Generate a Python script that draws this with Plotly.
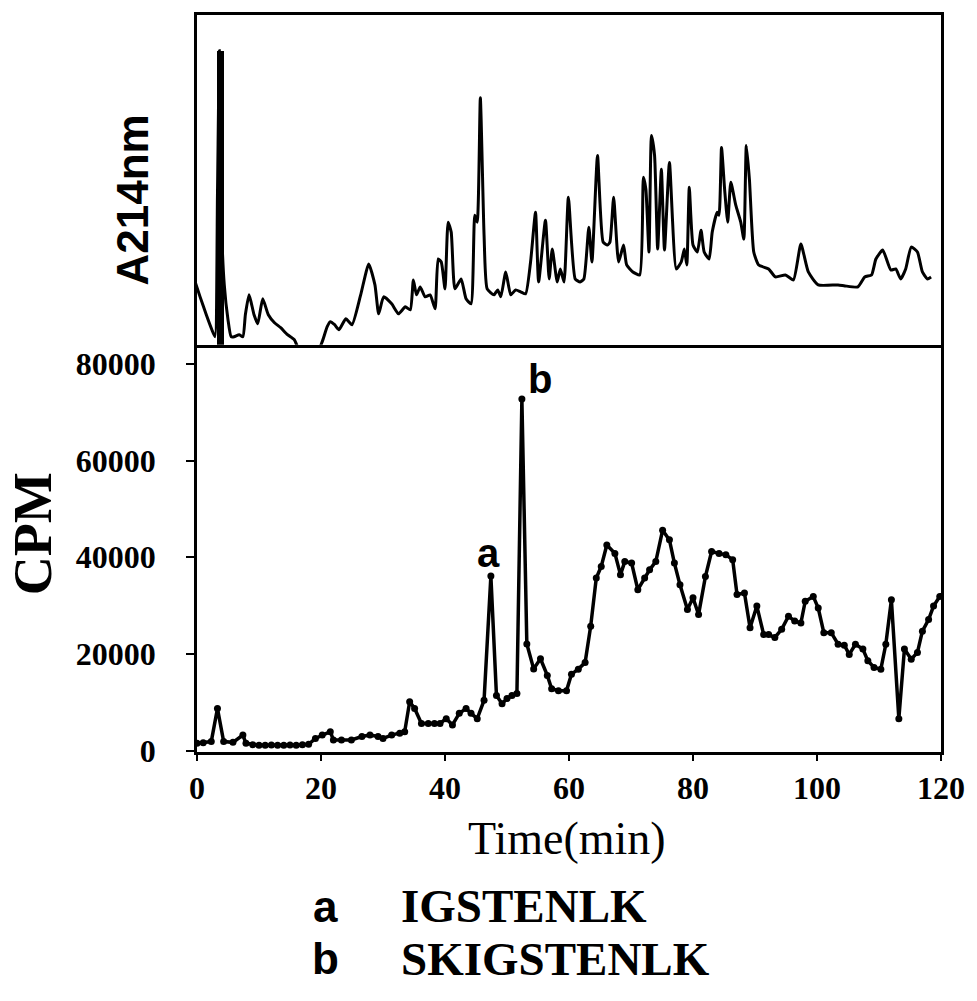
import plotly.graph_objects as go

# ---------------- data ----------------
# Upper panel: UV absorbance trace (A214nm, arbitrary units)
t_uv = [-0.3, 0.5, 1.5, 2.4, 2.9, 3.3, 3.6, 3.9, 4.4, 5.0, 5.5, 6.0, 6.8, 7.4, 7.8, 8.4, 9.2, 9.8,
        10.6, 11.5, 12.5, 13.5, 14.6, 15.7, 16.5, 19.6, 20.2, 21.0, 21.5, 22.2, 22.9, 24.0, 25.0,
        26.4, 27.7, 28.7, 29.3, 30.1, 31.4, 32.5, 33.6, 34.4, 34.9, 35.4, 36.0, 36.8, 37.6, 38.4,
        38.9, 39.4, 40.0, 40.5, 41.0, 41.6, 42.6, 43.4, 44.2, 44.8, 45.2, 45.7, 46.3, 46.8, 47.9,
        48.5, 49.0, 49.8, 50.6, 51.4, 52.2, 53.0, 53.8, 54.6, 55.1, 56.2, 56.8, 57.3, 58.1, 58.6,
        59.2, 59.9, 61.0, 61.8, 62.4, 63.2, 63.7, 64.6, 65.5, 66.2, 66.6, 67.2, 68.0, 68.8, 69.3,
        70.3, 71.4, 72.0, 72.4, 72.9, 73.3, 73.8, 74.3, 74.9, 75.4, 76.2, 77.3, 78.1, 78.6, 79.0,
        79.4, 80.0, 80.7, 81.3, 81.8, 82.6, 83.1, 83.9, 84.2, 84.6, 85.1, 85.6, 86.1, 86.9, 87.7,
        88.2, 88.6, 89.1, 89.8, 90.6, 92.2, 93.3, 94.9, 96.2, 97.4, 98.6, 100.2, 103.4, 104.5,
        106.6, 107.7, 108.8, 109.5, 110.6, 111.9, 112.7, 113.5, 114.3, 115.2, 116.2, 117.0, 117.8,
        118.4]
a214 = [63, 48, 30, 15, 8, 150, 295, 130, 60, 25, 8, 8, 10, 8, 30, 50, 30, 21,
        46, 30, 22, 17, 10, 5, -5, -5, 3, 18, 23, 20, 15, 26, 20,
        50, 81, 60, 31, 48, 41, 31, 38, 35, 65, 50, 58, 48, 50, 36,
        86, 83, 56, 123, 113, 56, 66, 46, 41, 130, 123, 248, 110, 56, 50,
        55, 48, 73, 50, 55, 53, 51, 83, 133, 63, 125, 66, 96, 63, 76,
        63, 148, 66, 63, 66, 118, 83, 190, 103, 100, 103, 148, 83, 100, 80,
        73, 70, 168, 156, 93, 210, 190, 96, 176, 95, 183, 76, 83, 96, 80,
        158, 100, 93, 115, 93, 86, 113, 133, 130, 198, 156, 123, 163, 140, 123,
        106, 200, 166, 93, 80, 76, 68, 70, 65, 101, 73, 60, 60, 59,
        58, 68, 70, 86, 95, 75, 76, 66, 76, 98, 93, 73, 66,
        68]
# solvent front (off-scale, saturated peak)
t_front = [3.8]
a214_front = [295]

# Lower panel: radioactivity of collected fractions
t_cpm = [0.0, 1.0, 2.3, 3.3, 4.3, 5.8, 7.4, 7.9, 9.0, 10.0, 11.0, 12.0, 13.0, 14.0, 15.0, 16.0,
         17.0, 18.0, 19.1, 20.2, 21.5, 22.0, 23.3, 24.9, 26.6, 27.9, 29.2, 30.0, 31.4, 32.7, 33.5,
         34.3, 35.1, 36.2, 37.3, 38.3, 39.2, 40.2, 41.2, 42.3, 43.4, 44.2, 45.2, 46.3, 47.4, 48.3,
         49.2, 50.0, 50.8, 51.6, 52.4, 53.2, 54.3, 55.4, 56.5, 57.2, 58.3, 59.6, 60.4, 61.5, 62.6,
         63.5, 64.4, 65.2, 66.1, 67.4, 68.3, 69.0, 70.1, 71.1, 72.2, 73.0, 74.0, 75.1, 76.2, 77.0,
         77.9, 79.1, 80.0, 80.9, 82.0, 83.0, 84.2, 85.3, 86.4, 87.1, 88.3, 89.2, 90.3, 91.4, 92.2,
         93.2, 94.3, 95.4, 96.4, 97.4, 98.1, 99.4, 100.2, 101.1, 102.3, 103.4, 104.4, 105.2, 106.2,
         107.4, 108.2, 109.2, 110.3, 111.1, 112.0, 113.2, 114.1, 115.2, 116.2, 117.0, 118.0, 118.8,
         119.8]
cpm = [1500, 1600, 1850, 8700, 1850, 1700, 3200, 1500, 1200, 1100, 1100, 1150, 1100, 1100, 1150, 1100,
       1200, 1300, 2500, 3200, 3900, 2200, 2200, 2200, 2900, 3200, 2900, 2500, 3200, 3600, 3900,
       10100, 8700, 5600, 5600, 5600, 5600, 6600, 5300, 7700, 8700, 7700, 6600, 10400, 36100, 11400,
       9700, 10750, 11400, 11800, 72750, 22050, 16900, 19000, 15550, 12800, 12400, 12400, 15800, 16850, 18200,
       25750, 35700, 38100, 42540, 40800, 36400, 39100, 38800, 33300, 35700, 37400, 39100, 45600, 43600, 38800,
       34300, 29200, 31600, 28150, 36000, 41200, 40800, 40500, 39500, 32300, 32600, 25400, 29900, 24000, 24000,
       23400, 25100, 27800, 26800, 26400, 30900, 31900, 29500, 24400, 24400, 22000, 21800, 19900, 22000,
       21000, 18600, 17200, 16850, 22000, 31200, 6600, 21000, 18900, 20300, 24700, 27100, 29900,
       31900]

x_ticks = [0, 20, 40, 60, 80, 100, 120]
x_ticktext = ["0", "20", "40", "60", "80", "100", "120"]
y_ticks = [0, 20000, 40000, 60000, 80000]
y_ticktext = ["0", "20000", "40000", "60000", "80000"]
peak_labels = ["a", "b"]
peak_t = [47.0, 55.3]
peak_y = [40900, 76900]
peptides = ["IGSTENLK", "SKIGSTENLK"]

assert len(t_uv) == len(a214)
assert len(t_cpm) == len(cpm)

# ---------------- figure ----------------
SERIF = "Liberation Serif"
SANS = "Liberation Sans"
fig = go.Figure()

fig.add_trace(go.Scatter(x=t_uv, y=a214, mode="lines", xaxis="x2", yaxis="y2",
                         line=dict(color="black", width=3, shape="spline", smoothing=0.5),
                         showlegend=False))
fig.add_trace(go.Bar(x=t_front, y=a214_front, width=1.0, xaxis="x2", yaxis="y2",
                     marker=dict(color="black", line=dict(width=0)), showlegend=False))
fig.add_trace(go.Scatter(x=t_cpm, y=cpm, mode="lines+markers", xaxis="x", yaxis="y",
                         line=dict(color="black", width=3.5),
                         marker=dict(color="black", size=7), showlegend=False))

split = 0.5527
LW = 2.5

fig.update_layout(
    width=977, height=1001,
    margin=dict(l=197, r=30, t=12, b=249),
    paper_bgcolor="white", plot_bgcolor="white",
    xaxis=dict(domain=[0, 1], anchor="y", range=[0, 120], tickvals=x_ticks, ticktext=x_ticktext,
               ticks="outside", ticklen=6, tickwidth=2, tickcolor="black",
               tickfont=dict(family=SERIF, size=32, color="black", weight="bold"),
               showline=True, linecolor="black", linewidth=LW, mirror=False,
               showgrid=False, zeroline=False),
    yaxis=dict(domain=[0, split], anchor="x", range=[-300, 84000], tickvals=y_ticks,
               ticktext=y_ticktext,
               ticks="outside", ticklen=8, tickwidth=2, tickcolor="black",
               ticklabelstandoff=24,
               tickfont=dict(family=SERIF, size=32, color="black", weight="bold"),
               showline=True, linecolor="black", linewidth=LW, mirror=True,
               showgrid=False, zeroline=False),
    xaxis2=dict(domain=[0, 1], anchor="y2", range=[0, 120], showticklabels=False,
                ticks="", showline=True, linecolor="black", linewidth=LW, mirror=True,
                showgrid=False, zeroline=False),
    yaxis2=dict(domain=[split, 1], anchor="x2", range=[0, 331], showticklabels=False,
                ticks="", showline=True, linecolor="black", linewidth=LW, mirror=True,
                showgrid=False, zeroline=False),
    bargap=0,
)

ann = []
# axis titles
ann.append(dict(text="CPM", xref="paper", yref="paper", x=-0.22, y=0.296, textangle=-90,
                showarrow=False, xanchor="center", yanchor="middle",
                font=dict(family=SERIF, size=54, color="black", weight="bold")))
ann.append(dict(text="A214nm", xref="paper", yref="paper", x=-0.087, y=0.7486, textangle=-90,
                showarrow=False, xanchor="center", yanchor="middle",
                font=dict(family=SANS, size=44, color="black", weight="bold")))
ann.append(dict(text="Time(min)", xref="paper", yref="paper", x=0.497, y=-0.118,
                showarrow=False, xanchor="center", yanchor="middle",
                font=dict(family=SERIF, size=46, color="black")))
# peak labels
for lab, tx, ty in zip(peak_labels, peak_t, peak_y):
    ann.append(dict(text=lab, x=tx, y=ty, xref="x", yref="y", showarrow=False,
                    xanchor="center", yanchor="middle",
                    font=dict(family=SANS, size=40, color="black", weight="bold")))
# key below the chart
key_y = [-0.2095, -0.2804]
for lab, pep, ky in zip(peak_labels, peptides, key_y):
    ann.append(dict(text=lab, xref="paper", yref="paper", x=0.173, y=ky, showarrow=False,
                    xanchor="center", yanchor="middle",
                    font=dict(family=SANS, size=44, color="black", weight="bold")))
    ann.append(dict(text=pep, xref="paper", yref="paper", x=0.271, y=ky, showarrow=False,
                    xanchor="left", yanchor="middle",
                    font=dict(family=SERIF, size=47, color="black", weight="bold")))
fig.update_layout(annotations=ann)

fig.write_html("out.html")
